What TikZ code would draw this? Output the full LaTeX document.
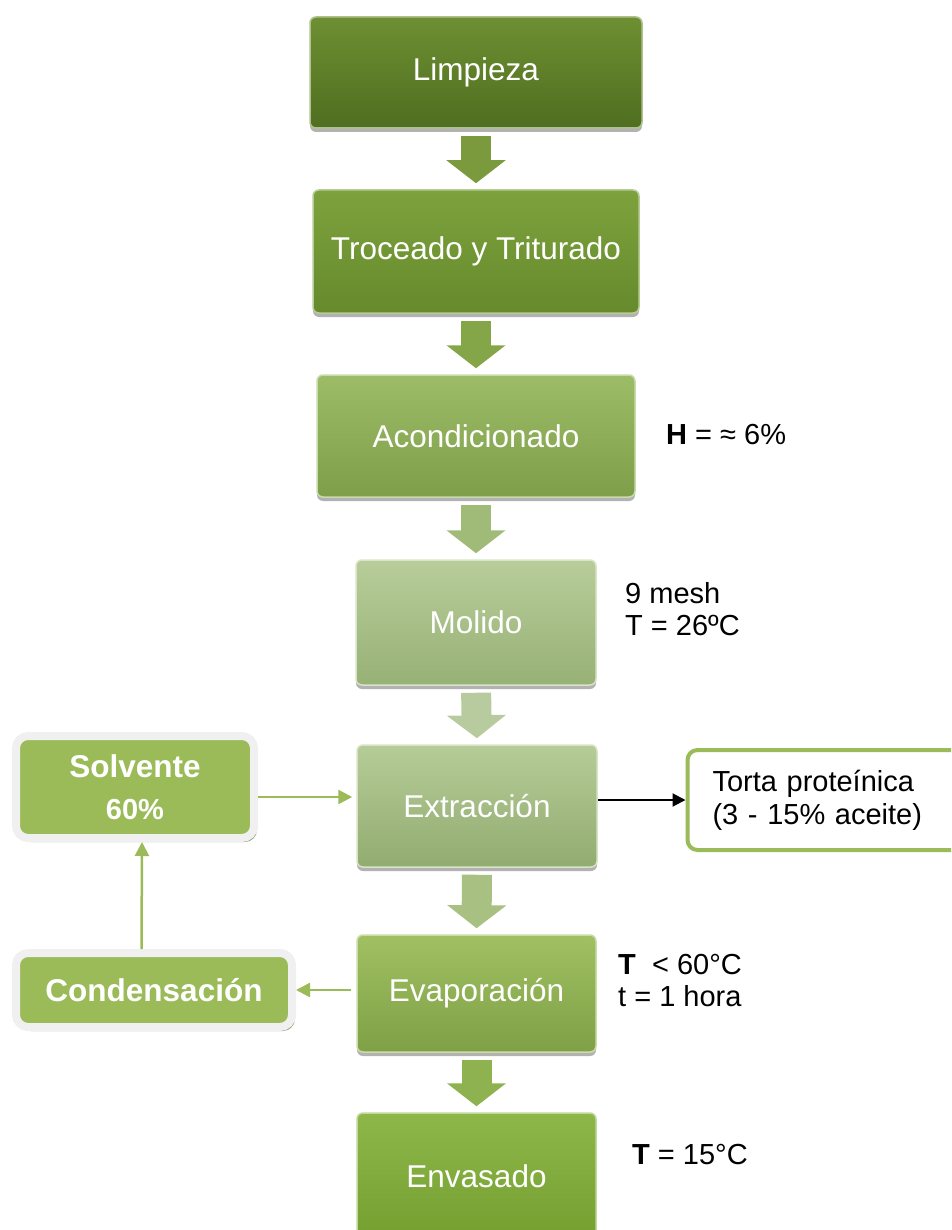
\documentclass[tikz,border=0pt]{standalone}
\usepackage{fontspec}
\setmainfont{Liberation Sans}
\usetikzlibrary{arrows.meta,shadows}
\definecolor{verdeA}{HTML}{9BBB59}
\definecolor{grisB}{HTML}{F0F0F0}
% tonos de las etapas (arriba / abajo)
\definecolor{limpA}{HTML}{6E8F32}\definecolor{limpB}{HTML}{4F6E20}
\definecolor{trocA}{HTML}{7DA23D}\definecolor{trocB}{HTML}{668A2C}
\definecolor{aconA}{HTML}{9DBC68}\definecolor{aconB}{HTML}{7E9E4A}
\definecolor{moliA}{HTML}{B8CD9A}\definecolor{moliB}{HTML}{97B176}
\definecolor{extrA}{HTML}{B6CC98}\definecolor{extrB}{HTML}{92AC70}
\definecolor{evapA}{HTML}{A0C062}\definecolor{evapB}{HTML}{7FA046}
\definecolor{envaA}{HTML}{8EB74A}\definecolor{envaB}{HTML}{74A030}
% tonos de las flechas de bloque
\definecolor{fl1}{RGB}{122,154,61}\definecolor{fl2}{RGB}{133,166,72}
\definecolor{fl3}{RGB}{160,187,120}\definecolor{fl4}{RGB}{184,203,158}
\definecolor{fl5}{RGB}{168,193,130}\definecolor{fl6}{RGB}{142,178,79}
\tikzset{
  paso/.style={rectangle, rounded corners=6pt, top color=#1A, bottom color=#1B,
    draw=#1A!55!white, line width=1.5pt, text=white, inner sep=0pt,
    font=\fontsize{31.5}{36}\selectfont,
    drop shadow={shadow xshift=0pt, shadow yshift=-4pt, opacity=0.3, fill=black}},
  lado/.style={rectangle, rounded corners=12pt, fill=verdeA, draw=grisB, line width=8pt,
    text=white, align=center, inner sep=0pt, font=\bfseries\fontsize{31.5}{42}\selectfont,
    drop shadow={shadow xshift=3pt, shadow yshift=-4pt, opacity=0.6, fill=black!40!verdeA}},
  salida/.style={rectangle, rounded corners=10pt, fill=white, draw=verdeA, line width=4pt,
    align=left, text width=232pt, inner xsep=25pt, inner ysep=0pt, minimum height=100pt,
    font=\fontsize{29}{33}\selectfont},
  nota/.style={anchor=west, align=left, inner sep=0pt, font=\fontsize{29}{32}\selectfont},
  bajar/.style={line width=30pt, draw=#1, -{Triangle[length=23pt,width=58pt]},
    shorten <=7pt, shorten >=6pt},
  flujo/.style={line width=2.5pt, draw=verdeA, -{Triangle[length=14pt,width=14pt]}}
}
\begin{document}
\begin{tikzpicture}[x=1pt,y=-1pt,line join=round]
\useasboundingbox (0,0) rectangle (951,1230);
\clip (0,0) rectangle (951,1230);
% etapas del proceso
\node[paso=limp, minimum width=332pt, minimum height=111pt] (limp) at (476,72.5) {Limpieza};
\node[paso=troc, minimum width=326pt, minimum height=123pt] (troc) at (476,251.5) {Troceado y Triturado};
\node[paso=acon, minimum width=318pt, minimum height=122pt] (acon) at (476,436) {Acondicionado};
\node[paso=moli, minimum width=240pt, minimum height=125pt] (moli) at (476,622.5) {Molido};
\node[paso=extr, minimum width=240pt, minimum height=122pt] (extr) at (477,806) {Extracción};
\node[paso=evap, minimum width=239pt, minimum height=117pt] (evap) at (476.5,993.5) {Evaporación};
\node[paso=enva, minimum width=239pt, minimum height=127pt] (enva) at (476.5,1176.5) {Envasado};
% flechas de bloque
\draw[bajar=fl1] (limp.south) -- (troc.north);
\draw[bajar=fl2] (troc.south) -- (acon.north);
\draw[bajar=fl3] (acon.south) -- (moli.north);
\draw[bajar=fl4] (moli.south) -- (extr.north);
\draw[bajar=fl5] (extr.south) -- (evap.north);
\draw[bajar=fl6] (evap.south) -- (enva.north);
% recirculacion del solvente
\node[lado, minimum width=238pt, minimum height=102pt] (solv) at (135,787) {Solvente\\{\fontsize{29}{33}\selectfont 60\%}};
\node[lado, minimum width=276pt, minimum height=74pt] (cond) at (154,990) {Condensación};
\node[salida, anchor=west] (torta) at (685.5,800) {Torta proteínica\\(3 - 15\% aceite)};
\draw[flujo] ([yshift=-10pt]solv.east) -- ([yshift=-10pt,xshift=-4pt]solv.east -| extr.west);
\draw[flujo] ([xshift=-12.5pt]cond.north) -- ([xshift=7pt]solv.south);
\draw[flujo] ([xshift=-5pt]evap.west |- cond.east) -- (cond.east);
\draw[line width=2pt, -{Triangle[length=13pt,width=13pt]}] (extr.east |- torta.west) -- (torta.west);
% condiciones
\node[nota] (hum) at (666,435) {\textbf{H} = ≈ 6\%};
\node[nota] (malla) at (625,609) {9 mesh\\T = 26ºC};
\node[nota] (temp1) at (618,981) {\textbf{T}\ \ < 60°C\\t = 1 hora};
\node[nota] (temp2) at (632,1155) {\textbf{T} = 15°C};
\end{tikzpicture}
\end{document}
